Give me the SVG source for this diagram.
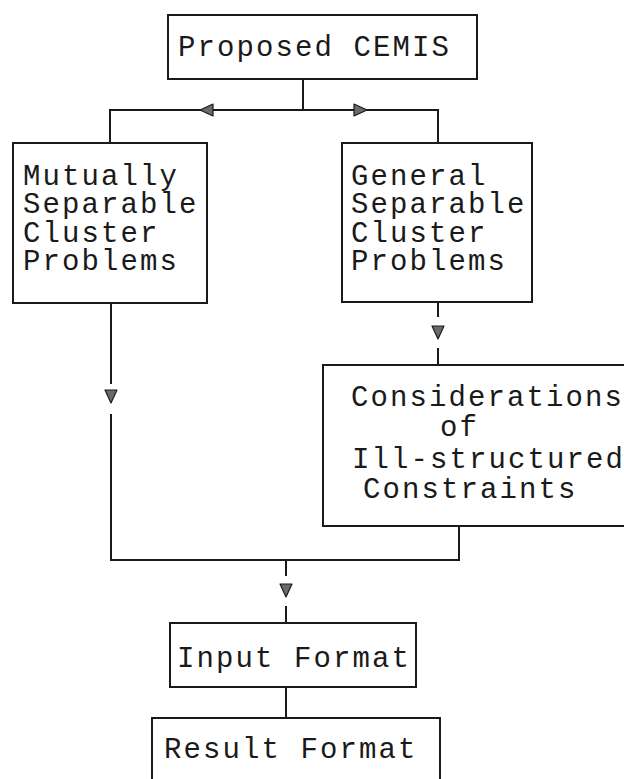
<svg xmlns="http://www.w3.org/2000/svg" width="624" height="779" viewBox="0 0 624 779">
<style>
.box{fill:#fff;stroke:#1a1a1a;stroke-width:2}
.ln{fill:none;stroke:#1a1a1a;stroke-width:2}
.ah{fill:#6a6a6a;stroke:#1a1a1a;stroke-width:1.2;stroke-linejoin:round}
text{font-family:"Liberation Mono","Courier New",monospace;font-size:29px;letter-spacing:2.1px;fill:#1a1a1a}
</style>
<rect width="624" height="779" fill="#fff"/>
<g id="connectors">
<path class="ln" d="M303,79 V110 M110,143 V110 H438 V143"/>
<polygon class="ah" points="200,110 213,104 213,116"/>
<polygon class="ah" points="367,110 354,104 354,116"/>
<path class="ln" d="M111,303 V384 M111,414 V560 H459 V526 M286,560 V576 M286,606 V623"/>
<polygon class="ah" points="111,403 105,390 117,390"/>
<polygon class="ah" points="286,597 280,584 292,584"/>
<path class="ln" d="M438,302 V317 M438,348 V365"/>
<polygon class="ah" points="438,339 432,326 444,326"/>
<path class="ln" d="M286,687 V718"/>
</g>
<g id="n-proposed">
<rect class="box" x="168" y="15" width="309" height="64"/>
<text x="178" y="56">Proposed CEMIS</text>
</g>
<g id="n-mutually">
<rect class="box" x="13" y="143" width="194" height="160"/>
<text x="23" y="185">Mutually</text>
<text x="23" y="213">Separable</text>
<text x="23" y="242">Cluster</text>
<text x="23" y="270">Problems</text>
</g>
<g id="n-general">
<rect class="box" x="342" y="143" width="190" height="159"/>
<text x="351" y="185">General</text>
<text x="351" y="213">Separable</text>
<text x="351" y="242">Cluster</text>
<text x="351" y="270">Problems</text>
</g>
<g id="n-considerations">
<rect class="box" x="323" y="365" width="310" height="161"/>
<text x="351" y="406">Considerations</text>
<text x="440" y="436">of</text>
<text x="352" y="468">Ill-structured</text>
<text x="363" y="498">Constraints</text>
</g>
<g id="n-input">
<rect class="box" x="170" y="623" width="246" height="64"/>
<text x="177" y="667">Input Format</text>
</g>
<g id="n-result">
<rect class="box" x="152" y="718" width="288" height="80"/>
<text x="164" y="758">Result Format</text>
</g>
</svg>
